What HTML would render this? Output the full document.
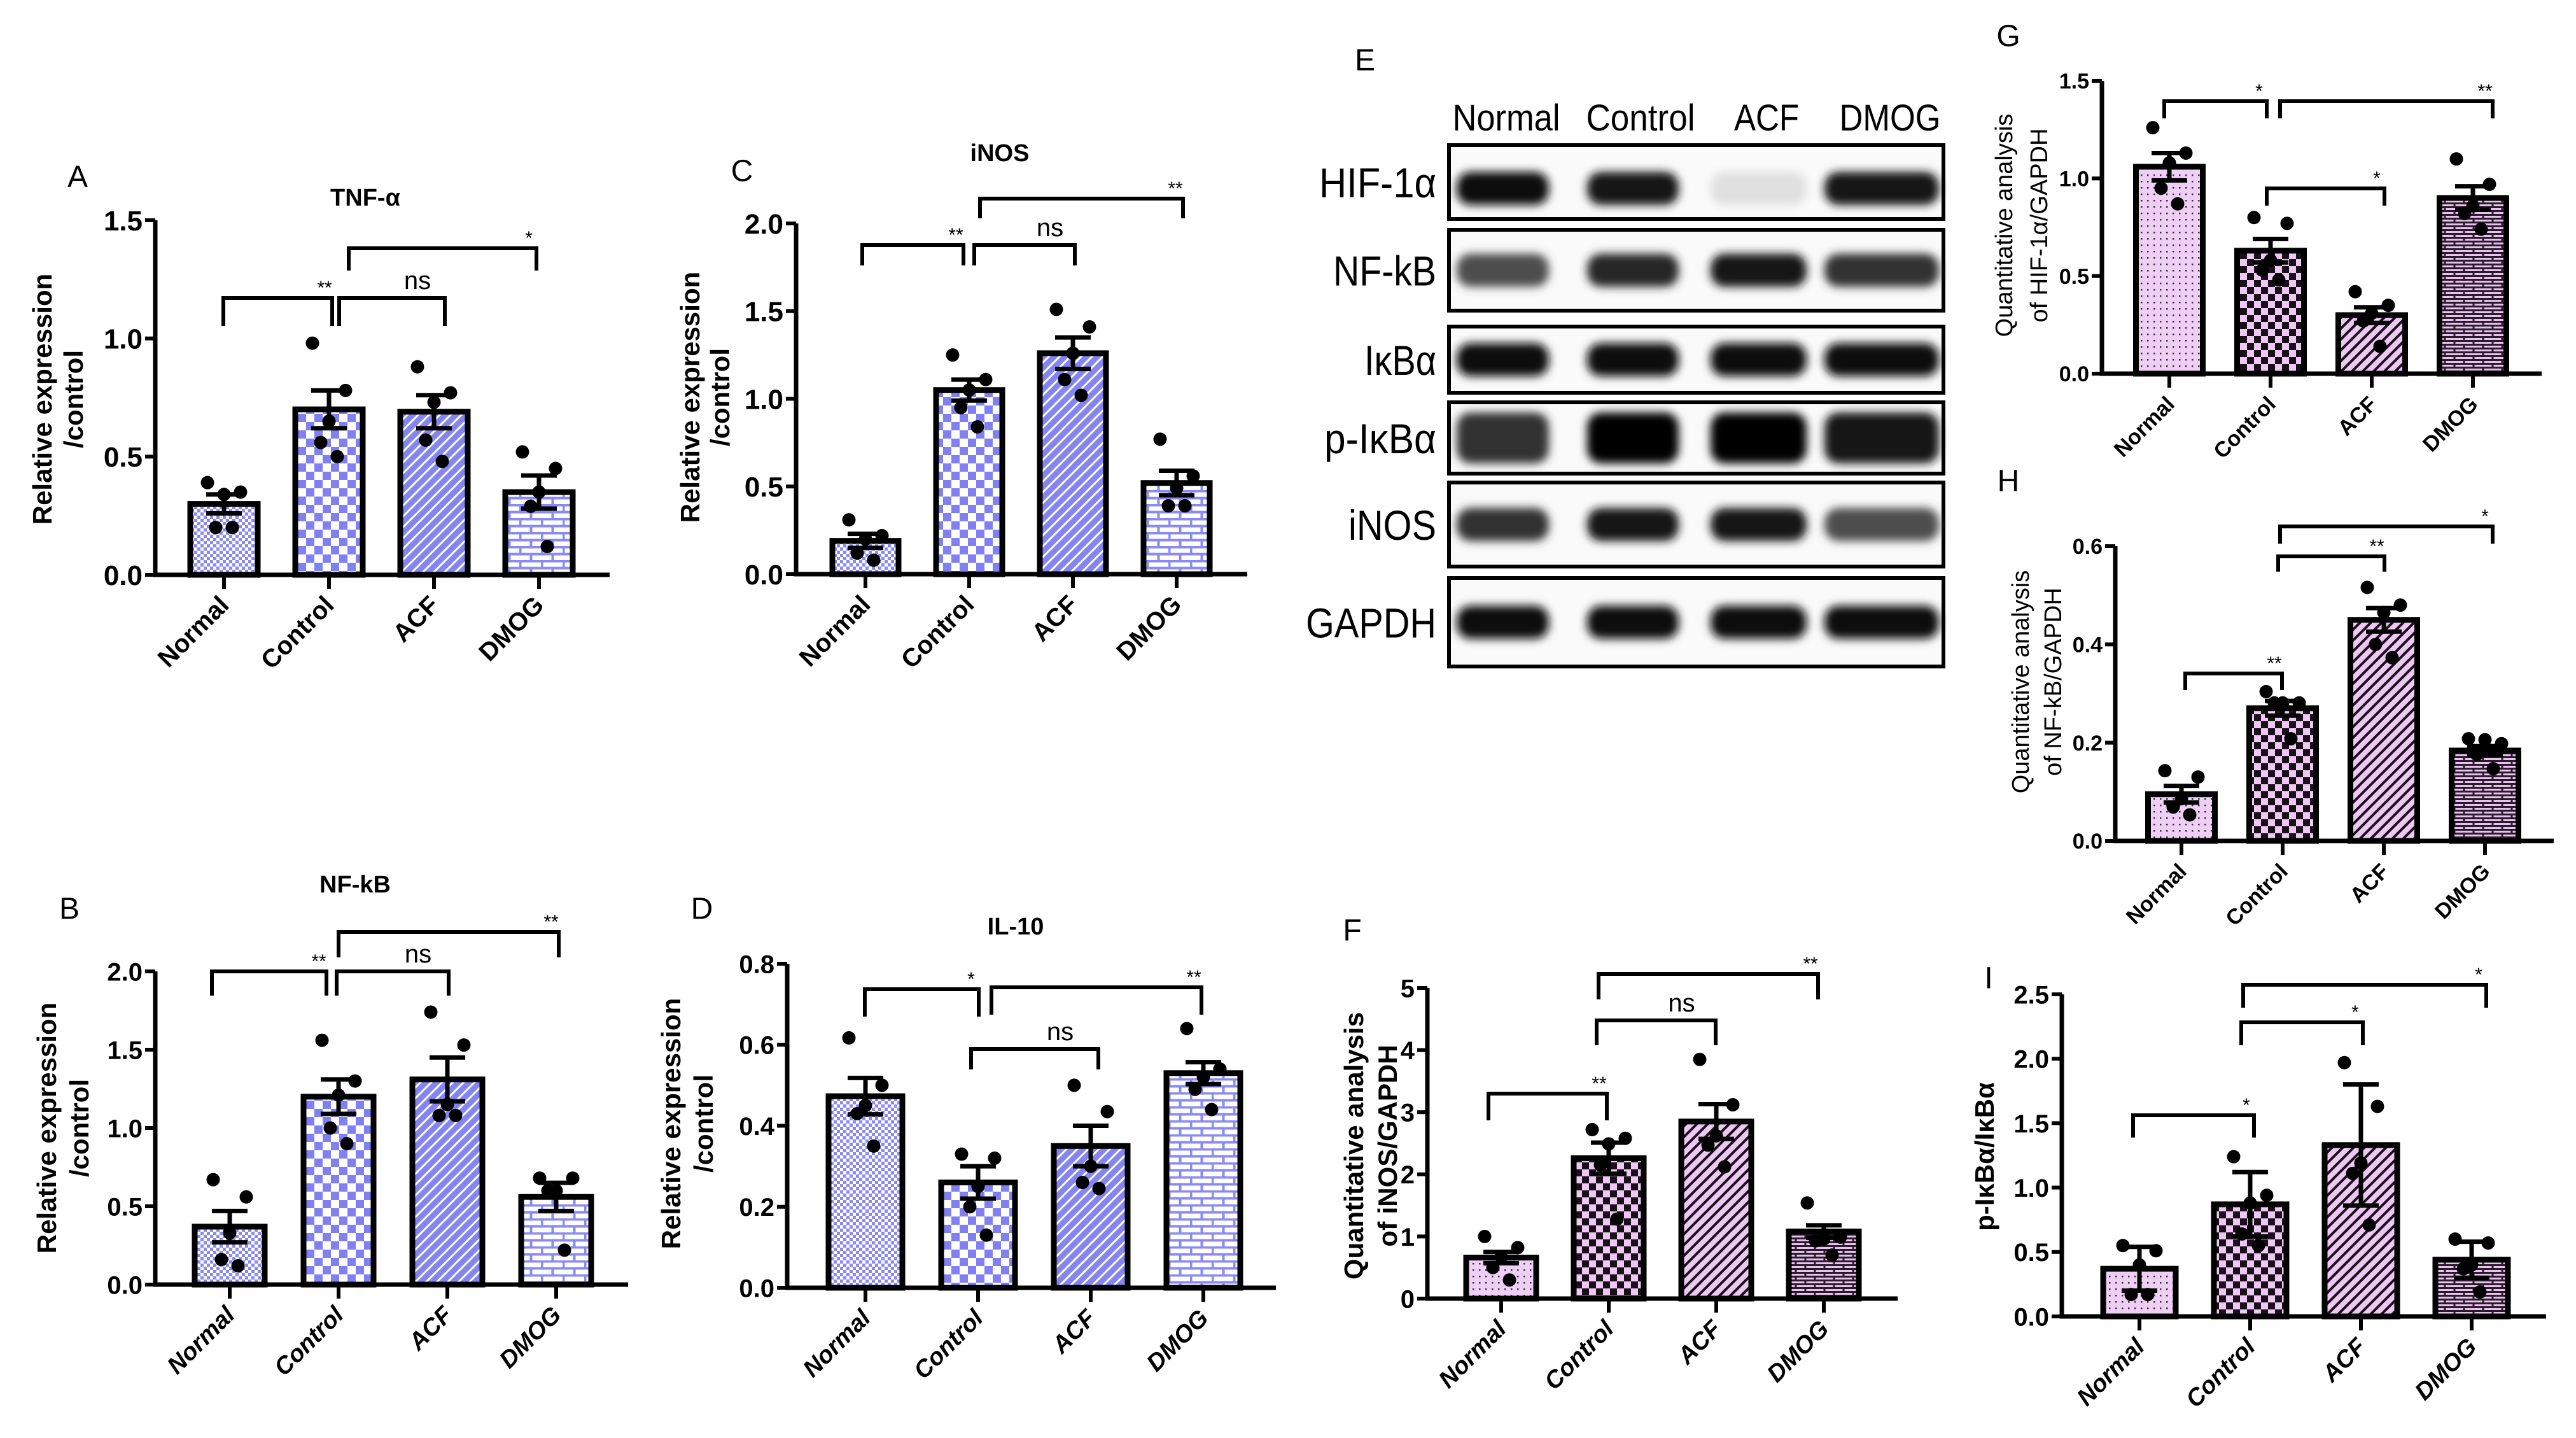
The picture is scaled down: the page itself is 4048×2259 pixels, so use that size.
<!DOCTYPE html>
<html><head><meta charset="utf-8"><style>
html,body{margin:0;padding:0;background:#fff;}
svg{display:block;}
text{font-family:"Liberation Sans",sans-serif;}
</style></head><body>
<svg id="fig" xmlns="http://www.w3.org/2000/svg" width="4048" height="2259" viewBox="0 0 4048 2259">
<defs>
<pattern id="blueFine" width="10" height="10" patternUnits="userSpaceOnUse"><rect width="10" height="10" fill="#fff"/><rect width="5" height="5" fill="#8a8af4"/><rect x="5" y="5" width="5" height="5" fill="#8a8af4"/></pattern>
<pattern id="blueCheck" width="26" height="26" patternUnits="userSpaceOnUse"><rect width="26" height="26" fill="#fff"/><rect width="13" height="13" fill="#8080f2"/><rect x="13" y="13" width="13" height="13" fill="#8080f2"/></pattern>
<pattern id="blueDiag" width="12" height="12" patternUnits="userSpaceOnUse" patternTransform="rotate(45)"><rect width="12" height="12" fill="#8585f2"/><rect width="3" height="12" fill="#fff"/></pattern>
<pattern id="blueBrick" width="34" height="22" patternUnits="userSpaceOnUse"><rect width="34" height="22" fill="#fff"/><path d="M0 1.5H34M0 12.5H34M1.5 0V11M18.5 11V22" stroke="#8a8af4" stroke-width="4"/></pattern>
<pattern id="pinkDots" width="10" height="10" patternUnits="userSpaceOnUse"><rect width="10" height="10" fill="#efcff5"/><rect x="4" y="4" width="2.5" height="2.5" fill="#333"/></pattern>
<pattern id="pinkCheck" width="22" height="22" patternUnits="userSpaceOnUse"><rect width="22" height="22" fill="#ecc8f2"/><rect width="11" height="11" fill="#1a0f1a"/><rect x="11" y="11" width="11" height="11" fill="#1a0f1a"/></pattern>
<pattern id="pinkDiag" width="12" height="12" patternUnits="userSpaceOnUse" patternTransform="rotate(45)"><rect width="12" height="12" fill="#ecc8f2"/><rect width="4" height="12" fill="#1a0f1a"/></pattern>
<pattern id="pinkBrick" width="30" height="12" patternUnits="userSpaceOnUse"><rect width="30" height="12" fill="#e8c2ee"/><path d="M0 1.5H30M0 7.5H30M2 0V6M17 6V12" stroke="#2a1a2a" stroke-width="3"/></pattern>
<filter id="blur" x="-20%" y="-50%" width="140%" height="200%"><feGaussianBlur stdDeviation="7"/></filter>
</defs>
<g id="layer"></g>
</svg>
<script>
const categories = ['Normal','Control','ACF','DMOG'];

// Panel A: TNF-α
const tnfTicks = [0,0.5,1.0,1.5];
const tnfMean = [0.30,0.70,0.69,0.35];
const tnfErr = [0.04,0.08,0.07,0.07];
const tnfPts = [[0.39,0.35,0.34,0.20,0.20],[0.98,0.78,0.65,0.56,0.50],[0.88,0.77,0.73,0.57,0.48],[0.52,0.45,0.35,0.29,0.12]];

// Panel C: iNOS
const inosTicks = [0,0.5,1.0,1.5,2.0];
const inosMean = [0.19,1.05,1.26,0.52];
const inosErr = [0.04,0.06,0.09,0.07];
const inosPts = [[0.31,0.22,0.20,0.12,0.08],[1.25,1.11,1.05,0.95,0.84],[1.51,1.41,1.26,1.11,1.02],[0.77,0.56,0.49,0.39,0.39]];

// Panel B: NF-kB
const nfkbTicks = [0,0.5,1.0,1.5,2.0];
const nfkbMean = [0.37,1.20,1.31,0.56];
const nfkbErr = [0.10,0.11,0.14,0.09];
const nfkbPts = [[0.67,0.56,0.33,0.16,0.12],[1.56,1.30,1.21,1.00,0.90],[1.74,1.53,1.15,1.08,1.08],[0.68,0.68,0.60,0.60,0.22]];

// Panel D: IL-10
const il10Ticks = [0,0.2,0.4,0.6,0.8];
const il10Mean = [0.473,0.26,0.35,0.53];
const il10Err = [0.045,0.04,0.05,0.027];
const il10Pts = [[0.617,0.50,0.45,0.43,0.35],[0.33,0.32,0.25,0.20,0.13],[0.50,0.435,0.30,0.26,0.245],[0.64,0.54,0.52,0.49,0.44]];

// Panel F: iNOS/GAPDH
const fTicks = [0,1,2,3,4,5];
const fMean = [0.66,2.26,2.85,1.08];
const fErr = [0.09,0.25,0.28,0.10];
const fPts = [[1.0,0.82,0.67,0.50,0.30],[2.72,2.58,2.49,2.15,1.28],[3.85,3.12,2.62,2.47,2.12],[1.54,0.99,0.96,0.93,0.70]];

// Panel G: HIF-1α/GAPDH
const gTicks = [0,0.5,1.0,1.5];
const gMean = [1.06,0.63,0.30,0.90];
const gErr = [0.07,0.06,0.04,0.06];
const gPts = [[1.26,1.13,1.08,0.95,0.87],[0.80,0.77,0.58,0.53,0.48],[0.42,0.35,0.31,0.27,0.14],[1.10,0.97,0.86,0.82,0.74]];

// Panel H: NF-kB/GAPDH
const hTicks = [0,0.2,0.4,0.6];
const hMean = [0.095,0.27,0.45,0.184];
const hErr = [0.017,0.015,0.024,0.009];
const hPts = [[0.143,0.13,0.086,0.069,0.053],[0.304,0.281,0.281,0.281,0.208],[0.516,0.48,0.465,0.40,0.373],[0.208,0.198,0.206,0.176,0.147]];

// Panel I: p-IκBα/IκBα
const iTicks = [0,0.5,1.0,1.5,2.0,2.5];
const iMean = [0.37,0.87,1.33,0.44];
const iErr = [0.17,0.25,0.47,0.14];
const iPts = [[0.55,0.51,0.40,0.17,0.17],[1.24,0.94,0.88,0.64,0.55],[1.97,1.63,1.19,1.11,0.71],[0.60,0.57,0.40,0.37,0.19]];

const NS = 'http://www.w3.org/2000/svg';
const layer = document.getElementById('layer');
function mk(tag, attrs, parent, txt){
  const e = document.createElementNS(NS, tag);
  for (const k in attrs) e.setAttribute(k, attrs[k]);
  if (txt !== undefined) e.textContent = txt;
  (parent || layer).appendChild(e);
  return e;
}
const blueFills = ['url(#blueFine)','url(#blueCheck)','url(#blueDiag)','url(#blueBrick)'];
const pinkFills = ['url(#pinkDots)','url(#pinkCheck)','url(#pinkDiag)','url(#pinkBrick)'];
const jitter = [-26, 26, 0, -13, 13];

function panel(c){
  const g = mk('g', {});
  
  
  const yMax = c.ticks[c.ticks.length-1];
  const ys = v => c.y0 - (v / yMax) * (c.y0 - c.yTop);
  const xs = i => c.c0 + i * c.step;
  const tf = c.tickFont;
  categories.forEach((cat, i) => {
    const x = xs(i), top = ys(c.means[i]);
    const b = mk('rect', {x: x - c.bw/2, y: top, width: c.bw, height: c.y0 - top, fill: c.fills[i], stroke: '#000', 'stroke-width': 9}, g);
    
    
  });
  categories.forEach((cat, i) => {
    c.pts[i].forEach((v, j) => {
      const p = mk('circle', {cx: xs(i) + jitter[j], cy: ys(v), r: 10.5, fill: '#000'}, g);
      
      
    });
  });
  categories.forEach((cat, i) => {
    const x = xs(i), hi = ys(c.means[i] + c.err[i]), lo = ys(c.means[i] - c.err[i]);
    const e = mk('path', {d: `M${x} ${lo}V${hi}M${x-28} ${hi}H${x+28}M${x-28} ${lo}H${x+28}`, stroke: '#000', 'stroke-width': 7, fill: 'none'}, g);
    
    
  });
  const ax = mk('path', {d: `M${c.ax} ${c.yTop}V${c.y0}H${c.xEnd}`, stroke: '#000', 'stroke-width': 7, fill: 'none'}, g);
  
  
  c.ticks.forEach((t, k) => {
    mk('line', {x1: c.ax - 16, x2: c.ax, y1: ys(t), y2: ys(t), stroke: '#000', 'stroke-width': 6}, g);
    const tl = mk('text', {x: c.ax - 20, y: ys(t) + tf*0.36, 'font-size': tf, 'font-weight': 'bold', 'text-anchor': 'end'}, g, c.dec === 0 ? String(t) : t.toFixed(c.dec));
    
    
  });
  categories.forEach((cat, i) => {
    mk('line', {x1: xs(i), x2: xs(i), y1: c.y0, y2: c.y0 + 22, stroke: '#000', 'stroke-width': 6}, g);
    const xl = mk('text', {x: xs(i) + 10, y: c.y0 + 50, 'font-size': c.xFont, 'font-weight': 'bold', 'font-style': c.italic ? 'italic' : 'normal', 'text-anchor': 'end', transform: `rotate(-45 ${xs(i)+10} ${c.y0+50})`}, g, cat);
    
    
  });
  c.ylab.forEach((ln, k) => {
    const yl = mk('text', {x: ln[1], y: c.ylabY, 'font-size': c.ylFont, 'font-weight': c.ylBold ? 'bold' : 'normal', 'text-anchor': 'middle', transform: `rotate(-90 ${ln[1]} ${c.ylabY})`, 'dominant-baseline': 'middle'}, g, ln[0]);
    
    
  });
  if (c.title) {
    const t = mk('text', {x: c.title[1], y: c.title[2], 'font-size': 38, 'font-weight': 'bold', 'text-anchor': 'middle', 'dominant-baseline': 'middle'}, g, c.title[0]);
    
    
  }
  const L = mk('text', {x: c.letter[1], y: c.letter[2], 'font-size': 48, 'text-anchor': 'middle', 'dominant-baseline': 'middle'}, g, c.letter[0]);
  
  
  c.brackets.forEach(b => {
    const [xl, xr, yt, yb, lab] = b;
    const br = mk('path', {d: `M${xl} ${yb}V${yt}H${xr}V${yb}`, stroke: '#000', 'stroke-width': 6, fill: 'none'}, g);
    
    
    const isNs = lab === 'ns';
    const st = mk('text', {x: isNs ? (xl+xr)/2 + 40 : xr - 12, y: isNs ? yt - 14 : yt - 6, 'font-size': isNs ? 40 : 30, 'text-anchor': 'middle'}, g, lab);
    
    
  });
}

panel({name:'panel-a-tnf', ticks:tnfTicks, means:tnfMean, err:tnfErr, pts:tnfPts, fills:blueFills,
  ax:244, y0:903, yTop:346, xEnd:958, c0:352, step:165, bw:106, dec:1, tickFont:44, xFont:40, italic:false,
  ylab:[['Relative expression',70],['/control',119]], ylabY:627, ylFont:42, ylBold:true,
  title:['TNF-α',574,313], letter:['A',122,281],
  brackets:[[351,522,468,512,'**'],[533,699,468,512,'ns'],[548,843,390,425,'*']]});

panel({name:'panel-c-inos', ticks:inosTicks, means:inosMean, err:inosErr, pts:inosPts, fills:blueFills,
  ax:1251, y0:902, yTop:351, xEnd:1960, c0:1360, step:163, bw:104, dec:1, tickFont:44, xFont:40, italic:false,
  ylab:[['Relative expression',1088],['/control',1135]], ylabY:624, ylFont:42, ylBold:true,
  title:['iNOS',1571,243], letter:['C',1166,272],
  brackets:[[1355,1514,385,417,'**'],[1531,1689,385,417,'ns'],[1540,1859,312,343,'**']]});

panel({name:'panel-b-nfkb', ticks:nfkbTicks, means:nfkbMean, err:nfkbErr, pts:nfkbPts, fills:blueFills,
  ax:244, y0:2018, yTop:1526, xEnd:987, c0:361, step:171, bw:110, dec:1, tickFont:40, xFont:38, italic:true,
  ylab:[['Relative expression',77],['/control',128]], ylabY:1772, ylFont:42, ylBold:true,
  title:['NF-kB',558,1392], letter:['B',109,1431],
  brackets:[[333,513,1526,1564,'**'],[529,705,1526,1564,'ns'],[532,878,1464,1504,'**']]});

panel({name:'panel-d-il10', ticks:il10Ticks, means:il10Mean, err:il10Err, pts:il10Pts, fills:blueFills,
  ax:1237, y0:2023, yTop:1514, xEnd:2005, c0:1360, step:177, bw:116, dec:1, tickFont:40, xFont:38, italic:true,
  ylab:[['Relative expression',1058],['/control',1109]], ylabY:1765, ylFont:42, ylBold:true,
  title:['IL-10',1596,1458], letter:['D',1103,1431],
  brackets:[[1359,1538,1554,1597,'*'],[1558,1888,1551,1594,'**'],[1526,1726,1648,1680,'ns']]});

panel({name:'panel-f-inos-gapdh', ticks:fTicks, means:fMean, err:fErr, pts:fPts, fills:pinkFills,
  ax:2243, y0:2040, yTop:1552, xEnd:2982, c0:2359, step:169, bw:110, dec:0, tickFont:40, xFont:38, italic:true,
  ylab:[['Quantitative analysis',2131],['of iNOS/GAPDH',2184]], ylabY:1800, ylFont:42, ylBold:true,
  title:null, letter:['F',2125,1465],
  brackets:[[2339,2525,1718,1760,'**'],[2509,2696,1603,1642,'ns'],[2512,2857,1530,1570,'**']]});

panel({name:'panel-i-pikba', ticks:iTicks, means:iMean, err:iErr, pts:iPts, fills:pinkFills,
  ax:3240, y0:2068, yTop:1562, xEnd:4001, c0:3362, step:174, bw:114, dec:1, tickFont:40, xFont:38, italic:true,
  ylab:[['p-IκBα/IκBα',3122]], ylabY:1817, ylFont:42, ylBold:true,
  title:null, letter:['I',3125,1540],
  brackets:[[3352,3542,1752,1787,'*'],[3522,3713,1606,1642,'*'],[3525,3907,1547,1583,'*']]});

panel({name:'panel-g-hif', ticks:gTicks, means:gMean, err:gErr, pts:gPts, fills:pinkFills,
  ax:3303, y0:587, yTop:127, xEnd:3994, c0:3409, step:159, bw:105, dec:1, tickFont:34, xFont:34, italic:false,
  ylab:[['Quantitative analysis',3152],['of HIF-1α/GAPDH',3207]], ylabY:354, ylFont:38, ylBold:false,
  title:null, letter:['G',3156,60],
  brackets:[[3401,3562,159,186,'*'],[3583,3917,159,186,'**'],[3562,3747,296,323,'*']]});

panel({name:'panel-h-nfkb-gapdh', ticks:hTicks, means:hMean, err:hErr, pts:hPts, fills:pinkFills,
  ax:3324, y0:1321, yTop:858, xEnd:4013, c0:3428, step:159, bw:105, dec:1, tickFont:34, xFont:34, italic:false,
  ylab:[['Quantitative analysis',3178],['of NF-kB/GAPDH',3229]], ylabY:1071, ylFont:38, ylBold:false,
  title:null, letter:['H',3156,759],
  brackets:[[3434,3586,1058,1084,'**'],[3580,3747,874,898,'**'],[3583,3917,827,854,'*']]});

// Western blot panel E
const blotRows = ['HIF-1α','NF-kB','IκBα','p-IκBα','iNOS','GAPDH'];
const blotIntensity = [[0.95,0.9,0.12,0.9],[0.7,0.85,0.92,0.8],[0.95,0.95,0.95,0.95],[0.8,0.98,0.98,0.9],[0.8,0.92,0.92,0.7],[0.95,0.95,0.95,0.95]];
const boxY = [[228,344],[361,488],[513,617],[632,744],[758,890],[908,1047]];
const laneX = [[2289,2434],[2494,2638],[2688,2839],[2867,3047]];
const laneLabX = [2367,2578,2776,2970];
const laneLabW = [169,171,102,159];
const rowLabW = [184,162,113,176,138,205];
const wb = mk('g', {});


const eL = mk('text', {x:2145, y:98, 'font-size':48, 'text-anchor':'middle', 'dominant-baseline':'middle'}, wb, 'E');


categories.forEach((cat, i) => {
  const t = mk('text', {x: laneLabX[i] - laneLabW[i]/2, y: 205, 'font-size': 58, textLength: laneLabW[i], lengthAdjust: 'spacingAndGlyphs'}, wb, cat);
  
  
});
blotRows.forEach((row, r) => {
  const [ya, yb] = boxY[r];
  const ym = (ya + yb) / 2;
  const bx = mk('rect', {x: 2277, y: ya, width: 777, height: yb - ya, fill: '#fafafa', stroke: '#000', 'stroke-width': 6}, wb);
  
  
  laneX.forEach((lx, i) => {
    const v = blotIntensity[r][i];
    const shade = Math.round(255 * (1 - v));
    const bandH = r === 3 ? 80 : 52;
    const band = mk('rect', {x: lx[0], y: ym - bandH/2 + (r===0?10:0), width: lx[1]-lx[0], height: bandH, rx: 22, fill: `rgb(${shade},${shade},${shade})`, filter: 'url(#blur)'}, wb);
    
    
  });
  const lb = mk('text', {x: 2257 - rowLabW[r], y: ym + 24, 'font-size': 66, textLength: rowLabW[r], lengthAdjust: 'spacingAndGlyphs'}, wb, row);
  
  
});
</script>
</body></html>
